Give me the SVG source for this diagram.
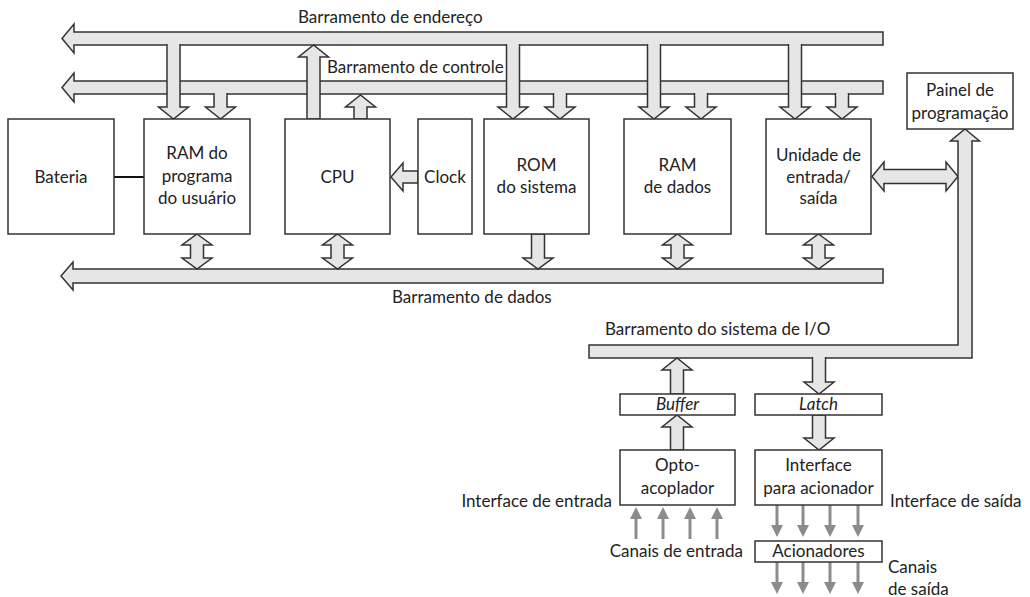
<svg xmlns="http://www.w3.org/2000/svg" width="1030" height="597" viewBox="0 0 1030 597">
  <style>
    .box { fill: #ffffff; stroke: #333333; stroke-width: 1.5; }
    .bus { fill: #e6e6e6; stroke: #333333; stroke-width: 1.5; stroke-linejoin: miter; }
    .patch { fill: #e6e6e6; stroke: none; }
    .wire { stroke: #111111; stroke-width: 2; fill: none; }
    .sig { stroke: #8c8c8c; stroke-width: 3; fill: none; marker-end: url(#tip); }
    text { font-family: Lato, "Open Sans", "DejaVu Sans", sans-serif; font-size: 17px; fill: #222222; }
    .c { text-anchor: middle; }
    .r { text-anchor: end; }
    .i { font-style: italic; }
  </style>
  <defs>
    <marker id="tip" markerUnits="userSpaceOnUse" markerWidth="12" markerHeight="12" refX="4" refY="6" orient="auto">
      <path d="M0,0 L12,6 L0,12 z" fill="#8c8c8c"/>
    </marker>
  </defs>

  <rect width="1030" height="597" fill="#ffffff"/>

  <!-- buses and wide connectors -->
  <g id="connectors">
    <polygon class="bus" points="62,38.5 74,24 74,32 883,32 883,45 74,45 74,53"/>
    <polygon class="bus" points="62,87.5 74,73 74,81 883,81 883,94 74,94 74,102"/>
    <polygon class="bus" points="61,276 73,262 73,269 883,269 883,283 73,283 73,290"/>

    <!-- address bus stems -->
    <polygon class="bus" points="167,45 180,45 180,107 188.5,107 173.5,119 158.5,107 167,107"/>
    <polygon class="bus" points="506.5,45 519.5,45 519.5,107 528,107 513,119 498,107 506.5,107"/>
    <polygon class="bus" points="647.5,45 660.5,45 660.5,107 669,107 654,119 639,107 647.5,107"/>
    <polygon class="bus" points="788.5,45 801.5,45 801.5,107 810,107 795,119 780,107 788.5,107"/>
    <rect class="patch" x="167.8" y="42" width="11.4" height="5"/>
    <rect class="patch" x="507.3" y="42" width="11.4" height="5"/>
    <rect class="patch" x="648.3" y="42" width="11.4" height="5"/>
    <rect class="patch" x="789.3" y="42" width="11.4" height="5"/>

    <!-- control bus stems -->
    <polygon class="bus" points="214,94 227,94 227,107 235.5,107 220.5,119 205.5,107 214,107"/>
    <polygon class="bus" points="553.5,94 566.5,94 566.5,107 575,107 560,119 545,107 553.5,107"/>
    <polygon class="bus" points="694.5,94 707.5,94 707.5,107 716,107 701,119 686,107 694.5,107"/>
    <polygon class="bus" points="835.5,94 848.5,94 848.5,107 857,107 842,119 827,107 835.5,107"/>
    <rect class="patch" x="214.8" y="91" width="11.4" height="5"/>
    <rect class="patch" x="554.3" y="91" width="11.4" height="5"/>
    <rect class="patch" x="695.3" y="91" width="11.4" height="5"/>
    <rect class="patch" x="836.3" y="91" width="11.4" height="5"/>

    <!-- CPU outputs -->
    <polygon class="bus" points="307,119 320,119 320,57 328.5,57 313.5,45 298.5,57 307,57"/>
    <polygon class="bus" points="354,119 367,119 367,107 375.5,107 360.5,95 345.5,107 354,107"/>

    <!-- data bus links -->
    <polygon class="bus" points="197,234 212,245 203.5,245 203.5,258 212,258 197,269 182,258 190.5,258 190.5,245 182,245"/>
    <polygon class="bus" points="337.5,234 352.5,245 344,245 344,258 352.5,258 337.5,269 322.5,258 331,258 331,245 322.5,245"/>
    <polygon class="bus" points="531.5,234 544.5,234 544.5,258 553,258 538,269 523,258 531.5,258"/>
    <polygon class="bus" points="677.5,234 692.5,245 684,245 684,258 692.5,258 677.5,269 662.5,258 671,258 671,245 662.5,245"/>
    <polygon class="bus" points="818.5,234 833.5,245 825,245 825,258 833.5,258 818.5,269 803.5,258 812,258 812,245 803.5,245"/>

    <!-- clock to CPU -->
    <polygon class="bus" points="391,177 403,163 403,171 418,171 418,183 403,183 403,191"/>

    <!-- I/O unit to panel link -->
    <polygon class="bus" points="872,176.5 884,162 884,169.5 946,169.5 946,162 958,176.5 946,191 946,183.5 884,183.5 884,191"/>

    <!-- panel riser and I/O system bus -->
    <path class="bus" d="M965,129 L979.5,141 L972,141 L972,358 L589,358 L589,345 L958,345 L958,141 L950.5,141 Z"/>

    <!-- buffer / latch paths -->
    <polygon class="bus" points="670.5,394 683.5,394 683.5,370 692,370 677,358 662,370 670.5,370"/>
    <polygon class="bus" points="670.5,450 683.5,450 683.5,427 692,427 677,415 662,427 670.5,427"/>
    <polygon class="bus" points="812.5,358 825.5,358 825.5,382 834,382 819,394 804,382 812.5,382"/>
    <rect class="patch" x="813.3" y="355" width="11.4" height="5"/>
    <polygon class="bus" points="812.5,415 825.5,415 825.5,438 834,438 819,450 804,438 812.5,438"/>

    <!-- battery wire -->
    <line class="wire" x1="114" y1="177" x2="144" y2="177"/>

    <!-- input channels -->
    <line class="sig" x1="636" y1="539" x2="636" y2="515"/>
    <line class="sig" x1="663" y1="539" x2="663" y2="515"/>
    <line class="sig" x1="690" y1="539" x2="690" y2="515"/>
    <line class="sig" x1="717" y1="539" x2="717" y2="515"/>
    <!-- driver lines -->
    <line class="sig" x1="777" y1="505" x2="777" y2="529"/>
    <line class="sig" x1="803" y1="505" x2="803" y2="529"/>
    <line class="sig" x1="830" y1="505" x2="830" y2="529"/>
    <line class="sig" x1="858" y1="505" x2="858" y2="529"/>
    <!-- output channels -->
    <line class="sig" x1="777" y1="562" x2="777" y2="586"/>
    <line class="sig" x1="803" y1="562" x2="803" y2="586"/>
    <line class="sig" x1="830" y1="562" x2="830" y2="586"/>
    <line class="sig" x1="858" y1="562" x2="858" y2="586"/>
  </g>

  <!-- bus labels -->
  <text x="298" y="23">Barramento de endereço</text>
  <text x="327" y="73">Barramento de controle</text>
  <text x="392" y="303">Barramento de dados</text>
  <text x="605" y="335">Barramento do sistema de I/O</text>

  <g id="bateria">
    <rect class="box" x="8" y="119" width="106" height="115"/>
    <text class="c" x="61" y="183">Bateria</text>
  </g>
  <g id="ram-programa">
    <rect class="box" x="144" y="119" width="106" height="115"/>
    <text class="c" x="197" y="159">RAM do</text>
    <text class="c" x="197" y="182">programa</text>
    <text class="c" x="197" y="204">do usuário</text>
  </g>
  <g id="cpu">
    <rect class="box" x="285" y="119" width="105" height="115"/>
    <text class="c" x="337.5" y="183">CPU</text>
  </g>
  <g id="clock">
    <rect class="box" x="418" y="119" width="54" height="115"/>
    <text class="c" x="445" y="183">Clock</text>
  </g>
  <g id="rom">
    <rect class="box" x="484" y="119" width="105" height="115"/>
    <text class="c" x="536.5" y="171">ROM</text>
    <text class="c" x="536.5" y="193">do sistema</text>
  </g>
  <g id="ram-dados">
    <rect class="box" x="624" y="119" width="107" height="115"/>
    <text class="c" x="677.5" y="171">RAM</text>
    <text class="c" x="677.5" y="193">de dados</text>
  </g>
  <g id="unidade-es">
    <rect class="box" x="766" y="119" width="105" height="115"/>
    <text class="c" x="818.5" y="161">Unidade de</text>
    <text class="c" x="818.5" y="183">entrada/</text>
    <text class="c" x="818.5" y="204">saída</text>
  </g>
  <g id="painel">
    <rect class="box" x="907" y="73" width="106" height="56"/>
    <text class="c" x="960" y="96">Painel de</text>
    <text class="c" x="960" y="119">programação</text>
  </g>
  <g id="buffer">
    <rect class="box" x="620" y="394" width="115" height="21"/>
    <text class="c i" x="677.5" y="410">Buffer</text>
  </g>
  <g id="latch">
    <rect class="box" x="755" y="394" width="127" height="21"/>
    <text class="c i" x="818.5" y="410">Latch</text>
  </g>
  <g id="optoacoplador">
    <rect class="box" x="620" y="450" width="115" height="55"/>
    <text class="c" x="677.5" y="471">Opto-</text>
    <text class="c" x="677.5" y="494">acoplador</text>
  </g>
  <g id="interface-acionador">
    <rect class="box" x="755" y="450" width="127" height="55"/>
    <text class="c" x="818.5" y="471">Interface</text>
    <text class="c" x="818.5" y="494">para acionador</text>
  </g>
  <g id="acionadores">
    <rect class="box" x="755" y="541" width="127" height="21"/>
    <text class="c" x="818.5" y="557">Acionadores</text>
  </g>

  <!-- side labels -->
  <text class="r" x="612" y="507">Interface de entrada</text>
  <text x="890" y="507">Interface de saída</text>
  <text class="r" x="743" y="557">Canais de entrada</text>
  <text x="888" y="573">Canais</text>
  <text x="888" y="595">de saída</text>
</svg>
